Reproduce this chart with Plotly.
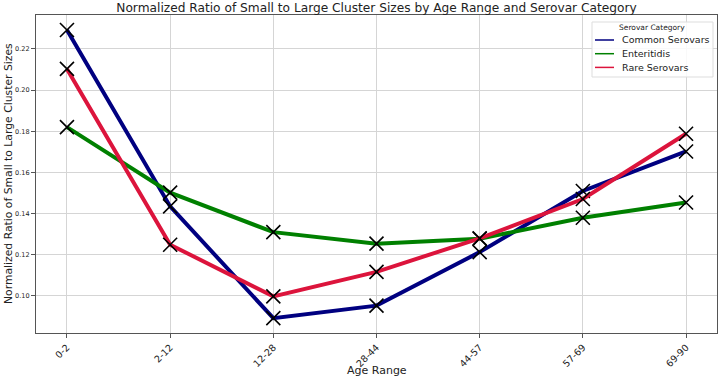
import plotly.graph_objects as go

age_ranges = ["0-2", "2-12", "12-28", "28-44", "44-57", "57-69", "69-90"]
common = [0.2292, 0.1435, 0.0892, 0.0953, 0.1213, 0.1510, 0.1702]
enteritidis = [0.1820, 0.1502, 0.1310, 0.1254, 0.1278, 0.1380, 0.1454]
rare = [0.2103, 0.1249, 0.0998, 0.1117, 0.1280, 0.1471, 0.1788]
series_names = ["Common Serovars", "Enteritidis", "Rare Serovars"]
series_colors = ["#000080", "#008000", "#DC143C"]
y_ticks = [0.10, 0.12, 0.14, 0.16, 0.18, 0.20, 0.22]

W, H = 720, 379
L, R, T, B = 36, 3, 15, 46
plot_w, plot_h = W - L - R, H - T - B


def px(xp):
    return (xp - L) / plot_w


def py(yp):
    return (H - B - yp) / plot_h


x_idx = list(range(len(age_ranges)))
fig = go.Figure()
for name, vals, col in zip(series_names, [common, enteritidis, rare], series_colors):
    fig.add_trace(go.Scatter(x=x_idx, y=vals, mode="lines", showlegend=False,
                             line=dict(color=col, width=4), name=name))
    fig.add_trace(go.Scatter(x=x_idx, y=vals, mode="markers", showlegend=False,
                             hoverinfo="skip",
                             marker=dict(symbol="x-thin", size=14, color="black",
                                         line=dict(width=1.6, color="black"))))

# legend drawn as shapes + annotations (matplotlib-style compact legend)
shapes = [dict(type="rect", xref="paper", yref="paper", x0=px(592), x1=px(713), y0=py(77), y1=py(22),
               line=dict(color="#dddddd", width=1), fillcolor="rgba(255,255,255,0.85)", layer="above")]
annotations = [dict(text="Serovar Category", xref="paper", yref="paper", x=px(652), y=py(28),
                    xanchor="center", yanchor="middle", showarrow=False, font=dict(size=7.5))]
for i, (name, col) in enumerate(zip(series_names, series_colors)):
    yy = 40 + i * 13.7
    shapes.append(dict(type="line", xref="paper", yref="paper", x0=px(595), x1=px(614),
                       y0=py(yy), y1=py(yy), line=dict(color=col, width=1.5), layer="above"))
    annotations.append(dict(text=name, xref="paper", yref="paper", x=px(620), y=py(yy),
                            xanchor="left", yanchor="middle", showarrow=False, font=dict(size=9.5)))

annotations += [
    dict(text="Age Range", x=0.5, xref="paper", xanchor="center", y=py(370), yref="paper",
         yanchor="middle", showarrow=False, font=dict(size=11)),
    dict(text="Normalized Ratio of Small to Large Cluster Sizes", textangle=-90,
         x=0, xref="paper", xshift=-28, xanchor="center", y=0.5, yref="paper",
         yanchor="middle", showarrow=False, font=dict(size=10.8)),
]

axis_common = dict(showline=True, linecolor="#555555", linewidth=1.2, mirror=True,
                   showgrid=True, gridcolor="#d5d5d5", gridwidth=1, zeroline=False,
                   ticks="outside", ticklen=4, tickcolor="#555555", automargin=False)
fig.update_layout(
    width=W, height=H,
    margin=dict(l=L, r=R, t=T, b=B),
    paper_bgcolor="white", plot_bgcolor="white",
    font=dict(family="DejaVu Sans", color="#222222"),
    title=dict(text="Normalized Ratio of Small to Large Cluster Sizes by Age Range and Serovar Category",
               x=0.5, xanchor="center", y=0.99, yanchor="top", font=dict(size=12.2, color="#222222"),
               xref="paper"),
    xaxis=dict(range=[-0.3, 6.3], tickmode="array", tickvals=x_idx, ticktext=age_ranges,
               tickangle=-45, tickfont=dict(size=9.5), **axis_common),
    yaxis=dict(range=[0.082, 0.2365], tickmode="array", tickvals=y_ticks,
               ticktext=[f"{v:.2f}" for v in y_ticks], tickfont=dict(size=6.5),
               **axis_common),
    showlegend=False,
    shapes=shapes,
    annotations=annotations,
)
fig.write_html("out.html", config={"displayModeBar": False},
               post_script="document.body.style.margin='0px';")
